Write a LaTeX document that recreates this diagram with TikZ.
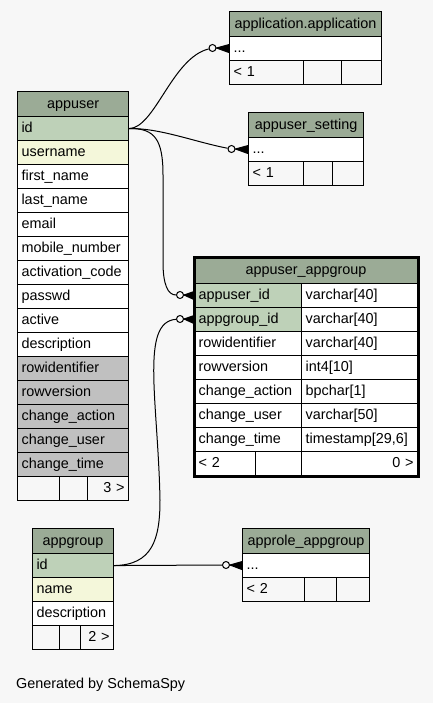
\documentclass[tikz,border=0pt]{standalone}
\usepackage{fontspec}
\setmainfont{Liberation Sans}
\definecolor{bg}{HTML}{F7F7F7}
\definecolor{hdr}{HTML}{9BAB96}
\definecolor{pk}{HTML}{BED1B8}
\definecolor{idx}{HTML}{F4F7DA}
\definecolor{excl}{HTML}{C0C0C0}
% \tcell{name}{x}{y}{width}{height}{fill}{align}{text}
\newcommand\tcell[8]{%
  \pgfmathsetmacro\tcw{#4-8}%
  \node[cellbox,fill=#6,align=#7,minimum width=#4pt,minimum height=#5pt,text width=\tcw pt] (#1) at (#2,#3) {#8};}
% zero-or-many end: circle node, then a crow's foot to the column cell
\newcommand\crowfoot[2]{%
  \filldraw[conn, line join=miter] (#1.east) -- ([yshift=4pt]#2.west) -- ([yshift=1.5pt]#2.west)
     -- ([yshift=-1.5pt]#2.west) -- ([yshift=-4pt]#2.west) -- cycle;
  \draw[conn] (#1.east) -- (#2.west);}
\begin{document}
\begin{tikzpicture}[x=1pt,y=-1pt,
  cellbox/.style={draw=black, line width=1.1pt, anchor=north west, inner xsep=4pt, inner ysep=0pt,
    text height=10.5pt, text depth=2.5pt, font=\fontsize{14.4}{16}\selectfont},
  conn/.style={line width=1pt, black},
  optcircle/.style={circle, draw=black, line width=1pt, fill=bg, minimum size=7pt, inner sep=0pt}]

\useasboundingbox[fill=bg] (0,0) rectangle (433,703);

% ---- appuser
\tcell{au-h}{17}{91}{111}{25}{hdr}{center}{appuser}
\tcell{au-1}{17}{116}{111}{24}{pk}{left}{id}
\tcell{au-2}{17}{140}{111}{24}{idx}{left}{username}
\tcell{au-3}{17}{164}{111}{24}{white}{left}{first\_name}
\tcell{au-4}{17}{188}{111}{24}{white}{left}{last\_name}
\tcell{au-5}{17}{212}{111}{24}{white}{left}{email}
\tcell{au-6}{17}{236}{111}{24}{white}{left}{mobile\_number}
\tcell{au-7}{17}{260}{111}{24}{white}{left}{activation\_code}
\tcell{au-8}{17}{284}{111}{24}{white}{left}{passwd}
\tcell{au-9}{17}{308}{111}{24}{white}{left}{active}
\tcell{au-10}{17}{332}{111}{24}{white}{left}{description}
\tcell{au-11}{17}{356}{111}{24}{excl}{left}{rowidentifier}
\tcell{au-12}{17}{380}{111}{24}{excl}{left}{rowversion}
\tcell{au-13}{17}{404}{111}{24}{excl}{left}{change\_action}
\tcell{au-14}{17}{428}{111}{24}{excl}{left}{change\_user}
\tcell{au-15}{17}{452}{111}{24}{excl}{left}{change\_time}
\tcell{au-f1}{17}{476}{42}{24}{bg}{left}{}
\tcell{au-f2}{59}{476}{28}{24}{bg}{left}{}
\tcell{au-f3}{87}{476}{41}{24}{bg}{right}{3 >}

% ---- application.application
\tcell{aa-h}{229}{11}{152}{25}{hdr}{center}{application.application}
\tcell{aa-1}{229}{36}{152}{24}{white}{left}{...}
\tcell{aa-f1}{229}{60}{74}{24}{bg}{left}{< 1}
\tcell{aa-f2}{303}{60}{38}{24}{bg}{left}{}
\tcell{aa-f3}{341}{60}{40}{24}{bg}{left}{}

% ---- appuser_setting
\tcell{as-h}{248}{112}{115}{25}{hdr}{center}{appuser\_setting}
\tcell{as-1}{248}{137}{115}{24}{white}{left}{...}
\tcell{as-f1}{248}{161}{55}{24}{bg}{left}{< 1}
\tcell{as-f2}{303}{161}{29}{24}{bg}{left}{}
\tcell{as-f3}{332}{161}{31}{24}{bg}{left}{}

% ---- appuser_appgroup (focus table)
\tcell{aag-h}{194}{257}{223}{26}{hdr}{center}{appuser\_appgroup}
\tcell{aag-1}{194}{283}{107}{24}{pk}{left}{appuser\_id}
\tcell{aag-1t}{301}{283}{116}{24}{white}{left}{varchar[40]}
\tcell{aag-2}{194}{307}{107}{24}{pk}{left}{appgroup\_id}
\tcell{aag-2t}{301}{307}{116}{24}{white}{left}{varchar[40]}
\tcell{aag-3}{194}{331}{107}{24}{white}{left}{rowidentifier}
\tcell{aag-3t}{301}{331}{116}{24}{white}{left}{varchar[40]}
\tcell{aag-4}{194}{355}{107}{24}{white}{left}{rowversion}
\tcell{aag-4t}{301}{355}{116}{24}{white}{left}{int4[10]}
\tcell{aag-5}{194}{379}{107}{24}{white}{left}{change\_action}
\tcell{aag-5t}{301}{379}{116}{24}{white}{left}{bpchar[1]}
\tcell{aag-6}{194}{403}{107}{24}{white}{left}{change\_user}
\tcell{aag-6t}{301}{403}{116}{24}{white}{left}{varchar[50]}
\tcell{aag-7}{194}{427}{107}{24}{white}{left}{change\_time}
\tcell{aag-7t}{301}{427}{116}{24}{white}{left}{timestamp[29,6]}
\tcell{aag-f1}{194}{451}{61}{24}{white}{left}{< 2}
\tcell{aag-f2}{255}{451}{46}{24}{white}{left}{}
\tcell{aag-f3}{301}{451}{116}{24}{white}{right}{0 >}
\draw[line width=3pt] (aag-h.north west) rectangle (aag-f3.south east);

% ---- appgroup
\tcell{ag-h}{32}{528}{81}{25}{hdr}{center}{appgroup}
\tcell{ag-1}{32}{553}{81}{24}{pk}{left}{id}
\tcell{ag-2}{32}{577}{81}{24}{idx}{left}{name}
\tcell{ag-3}{32}{601}{81}{24}{white}{left}{description}
\tcell{ag-f1}{32}{625}{27}{24}{bg}{left}{}
\tcell{ag-f2}{59}{625}{21}{24}{bg}{left}{}
\tcell{ag-f3}{80}{625}{33}{24}{bg}{right}{2 >}

% ---- approle_appgroup
\tcell{ra-h}{242}{528}{127}{25}{hdr}{center}{approle\_appgroup}
\tcell{ra-1}{242}{553}{127}{24}{white}{left}{...}
\tcell{ra-f1}{242}{577}{62}{24}{bg}{left}{< 2}
\tcell{ra-f2}{304}{577}{32}{24}{bg}{left}{}
\tcell{ra-f3}{336}{577}{33}{24}{bg}{left}{}

% ---- relationship ends
\node[optcircle] (c1) at (212.5,48) {};
\node[optcircle] (c2) at (231.5,149) {};
\node[optcircle] (c3) at (180,295) {};
\node[optcircle] (c4) at (180,319) {};
\node[optcircle] (c5) at (226,565) {};

% ---- relationships
\draw[conn] (au-1.east) .. controls (155,128) and (172,58) .. (c1);
\draw[conn] (au-1.east) .. controls (160,128) and (195,142) .. (c2);
\draw[conn] (au-1.east) .. controls (155,128) and (163,140) .. (163,175)
  -- (163,262) .. controls (163,285) and (168,295) .. (c3);
\draw[conn] (ag-1.east) .. controls (152,565) and (160,540) .. (160,500)
  .. controls (158,400) and (140,322) .. (c4);
\draw[conn] (ag-1.east) -- (c5);

\crowfoot{c1}{aa-1}
\crowfoot{c2}{as-1}
\crowfoot{c3}{aag-1}
\crowfoot{c4}{aag-2}
\crowfoot{c5}{ra-1}

\node[anchor=base west, inner sep=0pt, font=\fontsize{14.4}{16}\selectfont] (gen) at (16,688) {Generated by SchemaSpy};
\end{tikzpicture}
\end{document}
